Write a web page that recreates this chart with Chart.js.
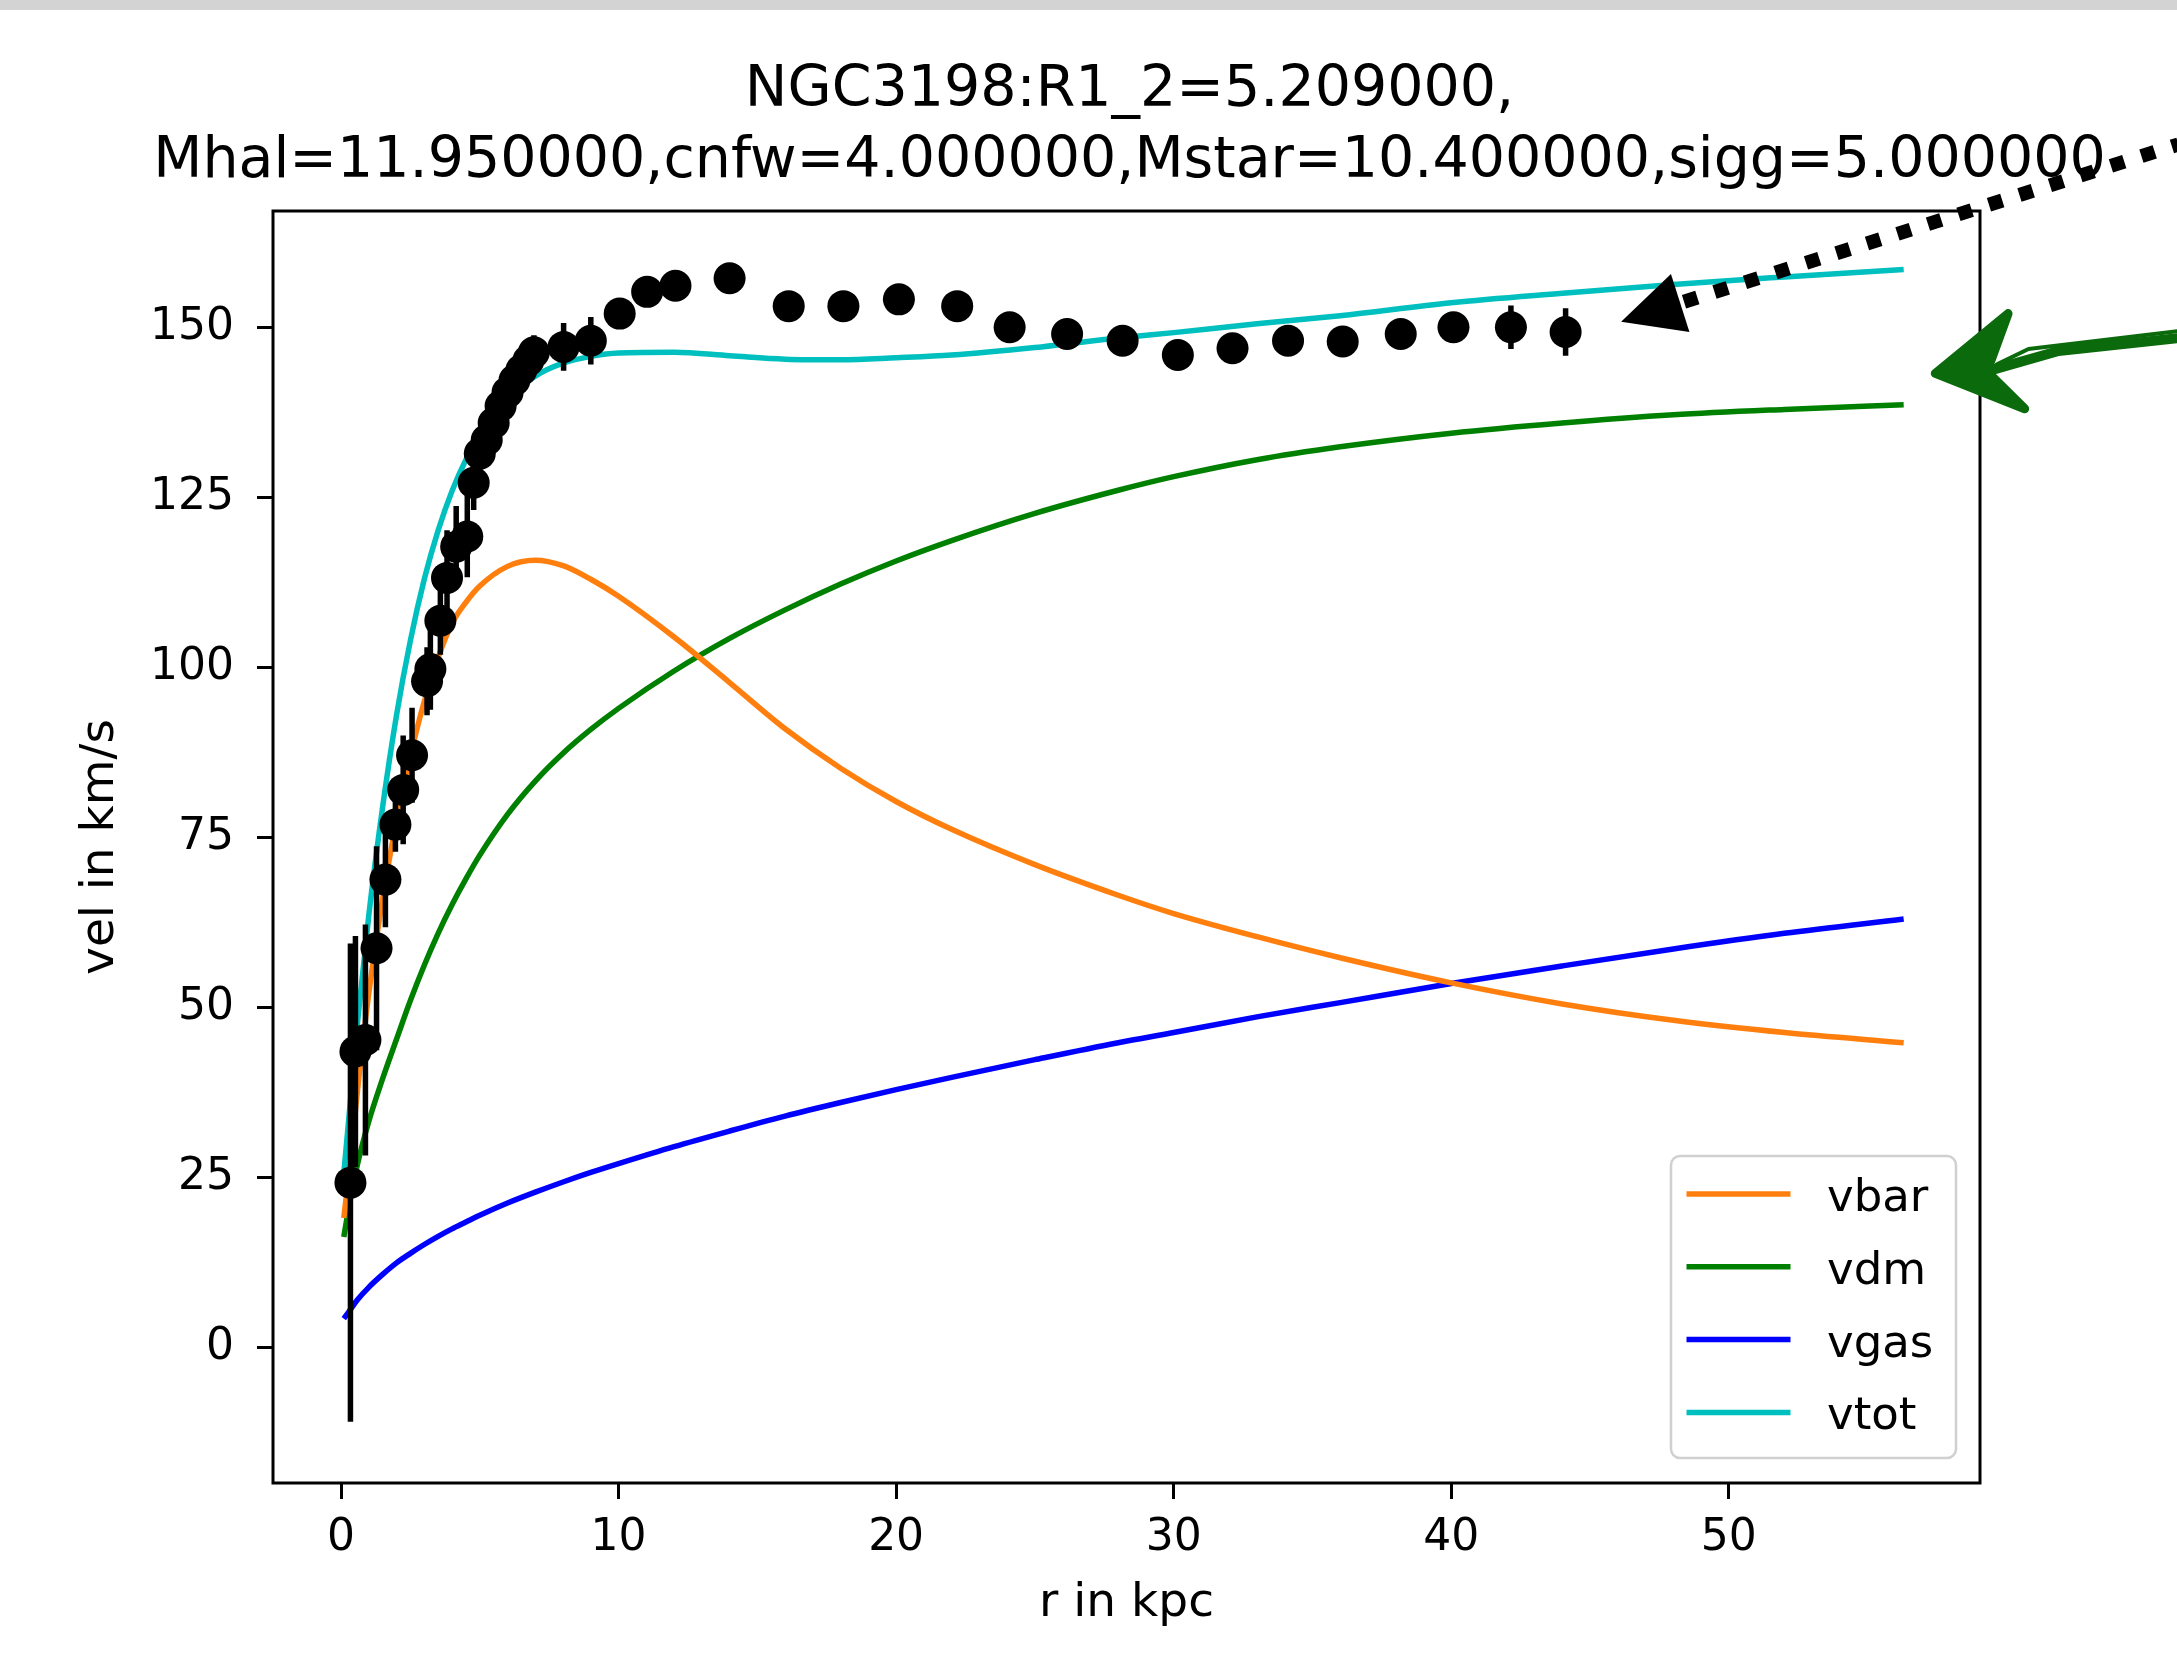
<!DOCTYPE html>
<html>
<head>
<meta charset="utf-8">
<title>NGC3198 rotation curve</title>
<script src="https://cdn.jsdelivr.net/npm/chart.js@4.4.1/dist/chart.umd.min.js"></script>
<style>
  html, body { margin: 0; padding: 0; background: #fff; overflow: hidden; }
  canvas { display: block; }
</style>
</head>
<body>
<canvas id="chart" width="2177" height="1658"></canvas>
<script>
const FONT = '"DejaVu Sans", "Liberation Sans", sans-serif';

// observed rotation curve: radius (kpc), velocity (km/s), error
const rObs = [0.34, 0.52, 0.88, 1.28, 1.60, 1.96, 2.24, 2.56, 3.10, 3.22, 3.58, 3.82, 4.15, 4.55, 4.78,
  5.00, 5.25, 5.50, 5.75, 6.00, 6.25, 6.50, 6.75, 6.95, 8.02, 9.00, 10.04, 11.03, 12.05, 14.00,
  16.13, 18.10, 20.10, 22.20, 24.09, 26.16, 28.16, 30.15, 32.12, 34.12, 36.09, 38.18, 40.08, 42.15, 44.12];
const vObs = [24.2, 43.5, 45.2, 58.7, 68.8, 76.9, 82.0, 87.1, 98.0, 99.8, 106.9, 113.2, 117.8, 119.3, 127.2,
  131.5, 133.5, 136.0, 138.5, 140.5, 142.3, 143.8, 145.2, 146.4, 147.2, 148.1, 152.1, 155.3, 156.2, 157.3,
  153.2, 153.2, 154.2, 153.2, 150.1, 149.1, 148.1, 146.0, 147.0, 148.1, 148.0, 149.1, 150.1, 150.1, 149.4];
const eObs = [35.2, 17, 17, 15, 7, 4, 8, 7, 5, 6, 5, 7, 6, 6, 4,
  3, 3, 3, 3, 3, 3, 3, 2.5, 2.5, 3.5, 3.5, 2, 2, 2, 2,
  2, 2, 2, 2, 2, 2, 2, 2, 2, 2, 2, 2, 2, 3.2, 3.5];

// model curves, sampled at these radii
const rModel = [0.1, 0.3, 0.6, 1, 1.5, 2, 2.5, 3, 3.5, 4, 4.5, 5, 6, 7, 8, 9, 10, 12, 14, 16, 18, 20,
  22, 25, 28, 30, 33, 36, 40, 44, 48, 52, 56.3];
const vbar = [19, 26, 38, 52, 66, 77.5, 87, 95, 101.5, 106.5, 109.6, 112, 114.9, 115.8, 115, 113, 110.5,
  104.5, 97.8, 91, 85.2, 80.3, 76.2, 71, 66.5, 63.8, 60.4, 57.3, 53.6, 50.5, 48.1, 46.3, 44.8];
const vdm = [16.2, 21, 27, 33.2, 39.5, 45.3, 51, 56.2, 60.9, 65.1, 68.9, 72.4, 78.4, 83.3, 87.4, 90.9, 94,
  99.5, 104.3, 108.5, 112.3, 115.7, 118.7, 122.7, 126.1, 128.1, 130.6, 132.5, 134.5, 136, 137.2, 138, 138.7];
const vgas = [4.2, 5.3, 7, 8.8, 10.7, 12.4, 13.8, 15.1, 16.3, 17.4, 18.4, 19.4, 21.2, 22.8, 24.3, 25.7, 27,
  29.5, 31.8, 34, 36, 37.9, 39.7, 42.3, 44.8, 46.3, 48.6, 50.7, 53.5, 56.1, 58.6, 60.9, 63];
const vtot = [25.5, 34.5, 48, 63.5, 79.5, 93, 104, 113, 120.2, 126, 130.6, 134.3, 139.6, 142.9, 144.8, 145.8, 146.3,
  146.4, 145.9, 145.4, 145.3, 145.6, 146, 147.1, 148.5, 149.3, 150.6, 151.8, 153.7, 155.1, 156.4, 157.5, 158.6];

const xTicks = [0, 10, 20, 30, 40, 50];
const yTicks = [0, 25, 50, 75, 100, 125, 150];

const titleLines = ['NGC3198:R1_2=5.209000,',
  'Mhal=11.950000,cnfw=4.000000,Mstar=10.400000,sigg=5.000000'];

// hand-added annotation arrows (data units: kpc, km/s)
const dotArrow = { tip: [46.12, 150.9], tail: [66.2, 177] };
const greenArrow = { tip: [57.44, 143.3], wingA: [60.06, 152.1], notch: [59.3, 143.6], wingB: [60.66, 138.1], tail: [66.2, 148.5] };

function curve(label, values, color) {
  return {
    type: 'line',
    label: label,
    data: rModel.map((r, i) => ({ x: r, y: values[i] })),
    borderColor: color,
    backgroundColor: color,
    borderWidth: 5.5,
    pointRadius: 0,
    cubicInterpolationMode: 'monotone',
    fill: false,
    order: 3,
    inLegend: true
  };
}

// error bars as vertical segments separated by gaps
const errData = [];
rObs.forEach((r, i) => {
  errData.push({ x: r, y: vObs[i] - eObs[i] }, { x: r, y: vObs[i] + eObs[i] }, { x: r, y: null });
});

const figurePlugin = {
  id: 'figure',
  beforeDraw(chart) {
    const ctx = chart.ctx;
    ctx.save();
    ctx.fillStyle = '#ffffff';
    ctx.fillRect(0, 0, chart.width, chart.height);
    ctx.fillStyle = '#d3d3d3';
    ctx.fillRect(0, 0, chart.width, 10);
    ctx.restore();
  },
  afterDraw(chart) {
    const { ctx, chartArea: ca } = chart;
    ctx.save();

    // axes frame
    ctx.strokeStyle = '#000';
    ctx.lineWidth = 3;
    ctx.strokeRect(ca.left, ca.top, ca.right - ca.left, ca.bottom - ca.top);

    // two line title, centred over the axes
    ctx.fillStyle = '#000';
    ctx.font = '57px ' + FONT;
    ctx.textAlign = 'center';
    ctx.textBaseline = 'alphabetic';
    titleLines.forEach((t, i) => ctx.fillText(t, (ca.left + ca.right) / 2 + 3, 106 + i * 71));

    // legend box in lower right corner
    const items = chart.data.datasets.filter(d => d.inLegend);
    const w = 285, h = 302;
    const left = ca.right - 24 - w, top = ca.bottom - 25 - h;
    ctx.fillStyle = 'rgba(255,255,255,0.8)';
    ctx.strokeStyle = '#d0d0d0';
    ctx.lineWidth = 2.5;
    ctx.beginPath();
    ctx.roundRect(left, top, w, h, 9);
    ctx.fill();
    ctx.stroke();
    ctx.font = '45px ' + FONT;
    ctx.textAlign = 'left';
    items.forEach((d, i) => {
      const y = top + 38 + i * 72.8;
      ctx.strokeStyle = d.borderColor;
      ctx.lineWidth = 5.5;
      ctx.beginPath();
      ctx.moveTo(left + 15.5, y);
      ctx.lineTo(left + 119.5, y);
      ctx.stroke();
      ctx.fillStyle = '#000';
      ctx.fillText(d.label, left + 156, y + 17);
    });

    const px = p => [chart.scales.x.getPixelForValue(p[0]), chart.scales.y.getPixelForValue(p[1])];

    // dotted black arrow
    const [tx, ty] = px(dotArrow.tip);
    const [sx, sy] = px(dotArrow.tail);
    const len = Math.hypot(sx - tx, sy - ty);
    const ux = (sx - tx) / len, uy = (sy - ty) / len;
    const bx = tx + ux * 62, by = ty + uy * 62;
    ctx.strokeStyle = '#000';
    ctx.fillStyle = '#000';
    ctx.lineWidth = 14;
    ctx.setLineDash([14, 18]);
    ctx.beginPath();
    ctx.moveTo(bx + ux * 4, by + uy * 4);
    ctx.lineTo(sx, sy);
    ctx.stroke();
    ctx.setLineDash([]);
    ctx.beginPath();
    ctx.moveTo(tx, ty);
    ctx.lineTo(bx - uy * 30.5, by + ux * 30.5);
    ctx.lineTo(bx + uy * 30.5, by - ux * 30.5);
    ctx.closePath();
    ctx.fill();

    // green hand drawn arrow
    const gt = px(greenArrow.tip), ga = px(greenArrow.wingA), gn = px(greenArrow.notch),
      gb = px(greenArrow.wingB), gs = px(greenArrow.tail);
    ctx.strokeStyle = '#0b6a0b';
    ctx.fillStyle = '#0b6a0b';
    ctx.lineCap = 'round';
    ctx.lineJoin = 'round';
    ctx.lineWidth = 10;
    ctx.beginPath();
    ctx.moveTo(gs[0], gs[1]);
    ctx.lineTo(gs[0] - 120, gs[1] + 13);
    ctx.lineTo(gn[0], gn[1]);
    ctx.stroke();
    ctx.lineWidth = 4;
    ctx.beginPath();
    ctx.moveTo(gs[0], gs[1] - 7);
    ctx.lineTo(gs[0] - 150, gs[1] + 11);
    ctx.lineTo(gn[0] + 10, gn[1] - 7);
    ctx.stroke();
    ctx.lineWidth = 9;
    ctx.beginPath();
    ctx.moveTo(gt[0], gt[1]);
    ctx.lineTo(ga[0], ga[1]);
    ctx.lineTo(gn[0], gn[1]);
    ctx.lineTo(gb[0], gb[1]);
    ctx.closePath();
    ctx.fill();
    ctx.stroke();

    ctx.restore();
  }
};

const ctx = document.getElementById('chart').getContext('2d');
const chart = new Chart(ctx, {
  type: 'scatter',
  data: {
    datasets: [
      curve('vbar', vbar, '#ff7f0e'),
      curve('vdm', vdm, '#008000'),
      curve('vgas', vgas, '#0000ff'),
      curve('vtot', vtot, '#00bfbf'),
      {
        type: 'line',
        label: 'errors',
        data: errData,
        borderColor: '#000',
        borderWidth: 5.5,
        pointRadius: 0,
        spanGaps: false,
        fill: false,
        order: 2
      },
      {
        type: 'scatter',
        label: 'data',
        data: rObs.map((r, i) => ({ x: r, y: vObs[i] })),
        backgroundColor: '#000',
        borderWidth: 0,
        pointRadius: 16,
        order: 1
      }
    ]
  },
  options: {
    responsive: false,
    animation: false,
    devicePixelRatio: 1,
    layout: { padding: { top: 211, right: 197, bottom: 0, left: 0 } },
    plugins: {
      legend: { display: false },
      tooltip: { enabled: false },
      title: { display: false }
    },
    scales: {
      x: {
        type: 'linear',
        min: -2.45,
        max: 59.05,
        afterBuildTicks: s => { s.ticks = xTicks.map(v => ({ value: v })); },
        afterFit: s => { s.height = 175; },
        grid: { display: true, drawOnChartArea: false, drawTicks: true, tickLength: 16, tickWidth: 3, tickColor: '#000' },
        border: { display: false },
        ticks: { font: { family: FONT, size: 44 }, color: '#000', padding: 13, maxRotation: 0, callback: v => String(v) },
        title: { display: true, text: 'r in kpc', color: '#000', font: { family: FONT, size: 47 }, padding: { top: 0, bottom: 26 } }
      },
      y: {
        type: 'linear',
        min: -20,
        max: 167.2,
        afterBuildTicks: s => { s.ticks = yTicks.map(v => ({ value: v })); },
        afterFit: s => { s.width = 273; },
        grid: { display: true, drawOnChartArea: false, drawTicks: true, tickLength: 16, tickWidth: 3, tickColor: '#000' },
        border: { display: false },
        ticks: { font: { family: FONT, size: 44 }, color: '#000', padding: 23, callback: v => String(v) },
        title: { display: true, text: 'vel in km/s', color: '#000', font: { family: FONT, size: 47 }, padding: { top: 73, bottom: 0 } }
      }
    }
  },
  plugins: [figurePlugin]
});
</script>
</body>
</html>
